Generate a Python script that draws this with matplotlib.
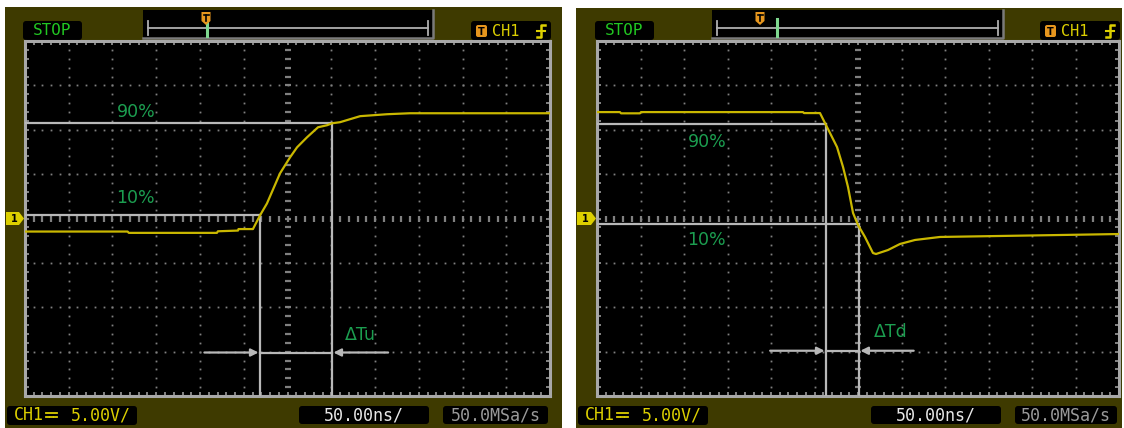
import numpy as np
import matplotlib
matplotlib.use("Agg")
import matplotlib.pyplot as plt
from matplotlib.patches import Rectangle, FancyBboxPatch, Polygon

# ---------------- data (oscilloscope units: ns, V) ----------------
rise_t_ns = [-300, -182.7, -181.4, -80.7, -79.5, -56.6, -56.0, -39.5, -31.5, -23.5,
             -8.6, 2.9, 10.9, 22.3, 34.9, 45.2, 50.9, 60.0, 83.0, 113.8, 140.0, 300]
rise_v = [-1.47, -1.47, -1.62, -1.62, -1.44, -1.36, -1.19, -1.19, 0.34, 1.69,
          5.08, 6.89, 8.02, 9.15, 10.28, 10.51, 10.73, 10.85, 11.53, 11.75, 11.86, 11.86]

fall_t_ns = [-300, -273.6, -272.4, -250.6, -249.4, -63.2, -62.1, -43.7, -35.6, -24.1,
             -17.2, -11.5, -5.7, 0.0, 8.0, 17.2, 20.7, 25.3, 34.5, 48.3, 65.5, 94.3,
             163.2, 232.2, 300]
fall_v = [11.99, 11.99, 11.85, 11.85, 11.99, 11.99, 11.88, 11.88, 10.30, 8.05,
          5.80, 3.55, 0.62, -0.73, -2.08, -3.89, -4.00, -3.85, -3.55, -2.87, -2.42, -2.08,
          -1.97, -1.86, -1.75]

# 10% / 90% markers: (time ns, level V)
rise_p10 = (-31.5, 0.34)
rise_p90 = (50.9, 10.73)
fall_p90 = (-36.8, 10.64)
fall_p10 = (1.1, -0.62)

labels_pct = ["90%", "10%"]
rise_dt_label = "ΔTu"
fall_dt_label = "ΔTd"
status_text = "STOP"
ch_text = "CH1"
volt_scale_text = "5.00V/"
time_text = "50.00ns/"
rate_text = "50.0MSa/s"

# ---------------- styles ----------------
W, H = 1124, 428
OLIVE = "#3e3a00"
GRID = "#808080"
FRAME = "#a8a8a8"
TRACE = "#c9b700"
MARK = "#b8b8b8"
LBL = "#1c9e50"
STOPG = "#22c822"
YEL = "#dccf00"
ORANGE = "#e6961e"

fig = plt.figure(figsize=(W / 100, H / 100), dpi=100)
fig.patch.set_facecolor("white")
bg = fig.add_axes([0, 0, 1, 1])
bg.set_xlim(0, W)
bg.set_ylim(H, 0)
bg.axis("off")


def rbox(x0, y0, x1, y1, fc="black", ec="none", r=3, lw=0, z=2):
    p = FancyBboxPatch((x0, y0), x1 - x0, y1 - y0,
                       boxstyle=f"round,pad=0,rounding_size={r}",
                       fc=fc, ec=ec, lw=lw, zorder=z)
    bg.add_patch(p)


def t_icon(x0, y0, w, h, fs):
    bg.add_patch(FancyBboxPatch((x0, y0), w, h, boxstyle="round,pad=0,rounding_size=2",
                                fc=ORANGE, ec="none", zorder=6))
    bg.text(x0 + w / 2, y0 + h / 2 + 0.5, "T", color="black", fontsize=fs, weight="bold",
            ha="center", va="center", zorder=7)


def panel(ox0, oy0, ox1, oy1, sx0, sx1, sy0, sy1, tl, trig_x, gx):
    bg.add_patch(Rectangle((ox0, oy0), ox1 - ox0, oy1 - oy0, fc=OLIVE, ec="none", zorder=1))
    # STOP box
    rbox(sx0 - 2, 21, sx0 + 57, 40)
    bg.text(sx0 + 27, 30.5, status_text, color=STOPG, fontsize=11.5,
            family="DejaVu Sans Mono", ha="center", va="center", zorder=3)
    # timeline box
    x0, x1 = tl
    bg.add_patch(Rectangle((x0, 10), x1 - x0, 28, fc="black", ec="none", zorder=2))
    bg.plot([x1, x1, x0], [10, 38, 38], color="#7a7a7a", lw=1.8, zorder=3)
    bg.plot([x0 + 5, x1 - 5], [28, 28], color="#b0b0b0", lw=1.3, zorder=3)
    for xx in (x0 + 5, x1 - 5):
        bg.plot([xx, xx], [21, 35], color="#b0b0b0", lw=1.3, zorder=3)
    bg.plot([gx, gx], [19, 36], color="#7fd88f", lw=2.2, zorder=4)
    bg.add_patch(Polygon([(trig_x - 4.5, 12), (trig_x + 4.5, 12), (trig_x + 4.5, 21),
                          (trig_x, 25), (trig_x - 4.5, 21)], fc=ORANGE, ec="none", zorder=5))
    bg.plot([trig_x - 2.5, trig_x + 2.5], [14.5, 14.5], color="black", lw=1.2, zorder=6)
    bg.plot([trig_x, trig_x], [14.5, 20.5], color="black", lw=1.2, zorder=6)
    # CH1 trigger box
    cx0 = sx1 - 79
    rbox(cx0, 21, sx1 + 1, 40)
    t_icon(cx0 + 5, 25, 11, 12, 7)
    bg.text(cx0 + 35, 31, ch_text, color=YEL, fontsize=11, family="DejaVu Sans Mono",
            ha="center", va="center", zorder=3)
    bg.plot([cx0 + 66, cx0 + 70, cx0 + 70, cx0 + 74], [37, 37, 25, 25], color=YEL, lw=1.8, zorder=3)
    bg.plot([cx0 + 66, cx0 + 74], [31, 31], color=YEL, lw=1.5, zorder=3)
    # bottom boxes
    rbox(ox0 + 2, 406, ox0 + 132, 425)
    st = ox0 + 9
    bg.text(st, 415.5, ch_text, color=YEL, fontsize=12, family="DejaVu Sans Mono",
            ha="left", va="center", zorder=3)
    # DC coupling symbol (solid over dashed)
    bg.plot([st + 32, st + 43], [412.5, 412.5], color=YEL, lw=1.3, zorder=3)
    for k in range(3):
        bg.plot([st + 32 + k * 4, st + 34.5 + k * 4], [416.5, 416.5], color=YEL, lw=1.3, zorder=3)
    bg.text(st + 57, 415.5, volt_scale_text, color=YEL, fontsize=12, family="DejaVu Sans Mono",
            ha="left", va="center", zorder=3)
    mid = sx0 + 274
    rbox(mid, 406, mid + 130, 424)
    bg.text(mid + 65, 415, time_text, color="#e8e8e8", fontsize=12,
            family="DejaVu Sans Mono", ha="center", va="center", zorder=3)
    rbox(mid + 144, 406, sx1 - 2, 424)
    bg.text((mid + 144 + sx1 - 2) / 2, 415, rate_text, color="#9a9a9a", fontsize=12,
            family="DejaVu Sans Mono", ha="center", va="center", zorder=3)
    # ground marker "1"
    gy = (sy0 + sy1) / 2
    bg.add_patch(Polygon([(ox0 + 1, gy - 6.5), (sx0 - 6, gy - 6.5), (sx0 - 1, gy),
                          (sx0 - 6, gy + 6.5), (ox0 + 1, gy + 6.5)], fc=YEL, ec="none", zorder=3))
    bg.text((ox0 + sx0) / 2 - 1, gy, "1", color="black", fontsize=7, weight="bold",
            ha="center", va="center", zorder=4)
    # screen axes
    ax = fig.add_axes([sx0 / W, 1 - sy1 / H, (sx1 - sx0) / W, (sy1 - sy0) / H])
    ax.set_facecolor("black")
    ax.set_xlim(-300, 300)
    ax.set_ylim(-20, 20)
    minor_x = np.arange(-300, 301, 10)
    minor_y = np.arange(-20, 20.1, 1)
    for xm in np.arange(-250, 251, 50):
        if xm == 0:
            continue
        ax.plot(np.full_like(minor_y, xm), minor_y, ls="none", marker="s", ms=1.3,
                mew=0, color=GRID, zorder=1)
    for ym in np.arange(-15, 16, 5):
        if ym == 0:
            continue
        ax.plot(minor_x, np.full_like(minor_x, ym, dtype=float), ls="none", marker="s",
                ms=1.3, mew=0, color=GRID, zorder=1)
    ax.plot(np.zeros_like(minor_y), minor_y, ls="none", marker="_", ms=5, mew=1.6,
            color=GRID, zorder=1)
    ax.plot(minor_x, np.zeros_like(minor_x), ls="none", marker="|", ms=5, mew=1.6,
            color=GRID, zorder=1)
    ax.set_xticks(minor_x)
    ax.set_yticks(minor_y)
    ax.tick_params(direction="in", length=3, width=1.1, color=FRAME, top=True, right=True,
                   labelbottom=False, labelleft=False)
    for s in ax.spines.values():
        s.set_color(FRAME)
        s.set_linewidth(2.2)
    return ax


def overlay(ax, t, v, pa, pb, arrow_y, arrow_l, arrow_r, lbl_pos, dt_label, dt_pos):
    ax.plot(t, v, color=TRACE, lw=1.6, zorder=4)
    for (tx, vy) in (pa, pb):
        ax.plot([-300, tx], [vy, vy], color=MARK, lw=1.6, zorder=3)
        ax.plot([tx, tx], [vy, -20], color=MARK, lw=1.6, zorder=3)
    tl, tr = sorted([pa[0], pb[0]])
    ax.plot([tl, tr], [arrow_y, arrow_y], color=MARK, lw=1.6, zorder=3)
    ap = dict(arrowstyle="-|>", color=MARK, lw=1.6, mutation_scale=11, shrinkA=0, shrinkB=1)
    ax.annotate("", xy=(tl, arrow_y), xytext=(arrow_l, arrow_y), arrowprops=ap, zorder=3)
    ax.annotate("", xy=(tr, arrow_y), xytext=(arrow_r, arrow_y), arrowprops=ap, zorder=3)
    for txt, (x, y) in zip(labels_pct, lbl_pos):
        ax.text(x, y, txt, color=LBL, fontsize=12.5, ha="center", va="center", zorder=5)
    ax.text(dt_pos[0], dt_pos[1], dt_label, color=LBL, fontsize=12.5, ha="center",
            va="center", zorder=5)


# left panel (rise)
axL = panel(5, 7, 562, 428, 25, 550, 41, 396, (143, 433), 206, 207)
overlay(axL, rise_t_ns, rise_v, rise_p10, rise_p90, -15.1, -95, 115,
        [(-173, 12.0), (-174, 2.3)], rise_dt_label, (83, -13.1))
bg.add_patch(Polygon([(281.5, 42), (293.5, 42), (287.5, 50)], fc=ORANGE, ec="none", zorder=6))
t_icon(212, 53, 13, 14, 7.5)

# right panel (fall)
axR = panel(576, 8, 1122, 428, 597, 1119, 41, 396, (712, 1003), 760, 777)
overlay(axR, fall_t_ns, fall_v, fall_p90, fall_p10, -14.9, -101, 64,
        [(-173.6, 8.6), (-174.7, -2.4)], fall_dt_label, (38, -12.8))
bg.add_patch(Polygon([(852, 42), (864, 42), (858, 50)], fc=ORANGE, ec="none", zorder=6))
bg.add_patch(Polygon([(599, 58), (604, 52), (617, 52), (617, 64), (604, 64)],
                     fc=ORANGE, ec="none", zorder=6))
bg.text(610.5, 58.5, "T", color="black", fontsize=7.5, weight="bold", ha="center",
        va="center", zorder=7)

fig.savefig("out.png", dpi=100, facecolor="white")
